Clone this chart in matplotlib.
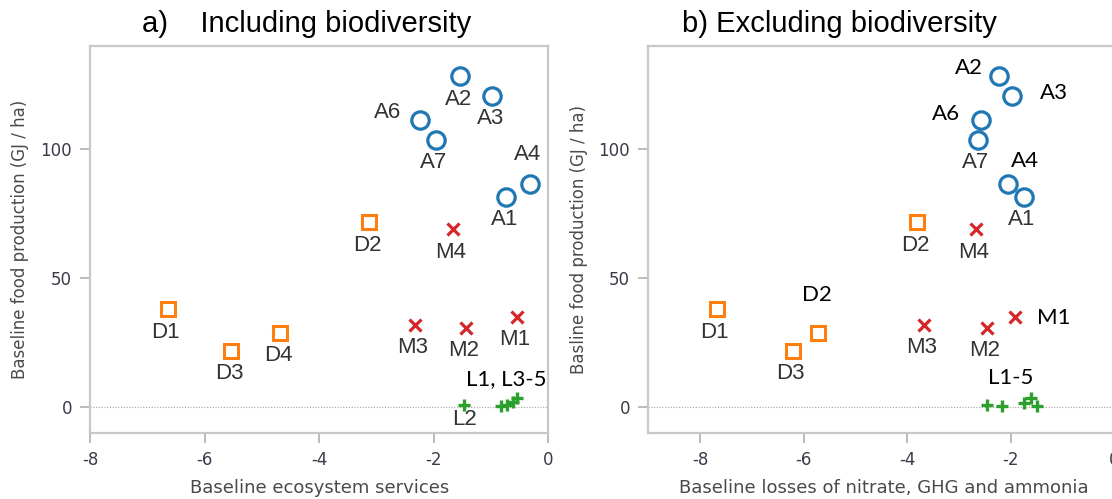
import matplotlib.pyplot as plt

plt.rcParams["axes.unicode_minus"] = False

# food production (GJ / ha), shared by both panels
a_names = ["A1", "A2", "A3", "A4", "A6", "A7"]
a_food = [81.5, 128.3, 120.8, 86.6, 111.5, 103.7]
a_es = [-0.73, -1.53, -0.97, -0.32, -2.23, -1.96]
a_loss = [-1.74, -2.22, -1.98, -2.05, -2.57, -2.63]

d_names = ["D1", "D2", "D3", "D4"]
d_food = [37.9, 71.7, 21.8, 28.9]
d_es = [-6.64, -3.12, -5.53, -4.68]
d_loss = [-7.68, -3.80, -6.21, -5.72]
d_names_b = ["D1", "D2", "D3", "D2"]  # panel b labels D4 as "D2"

m_names = ["M1", "M2", "M3", "M4"]
m_food = [35.0, 30.8, 31.9, 68.9]
m_es = [-0.54, -1.44, -2.33, -1.66]
m_loss = [-1.91, -2.46, -3.68, -2.67]

l_es = [-0.82, -1.46, -0.72, -0.62, -0.55]
l_food_a = [0.5, 0.7, 0.8, 2.0, 3.7]
l_loss = [-2.45, -2.16, -1.74, -1.60, -1.49]
l_food_b = [0.9, 0.6, 1.7, 3.4, 0.6]

BLUE, ORANGE, RED, GREEN = "#1f77b4", "#ff7f0e", "#d62728", "#2ca02c"
LABEL_GREY = "#333333"

fig = plt.figure(figsize=(11.12, 4.99), dpi=100)
ax1 = fig.add_axes([90 / 1112, 66 / 499, 458 / 1112, 387 / 499])
ax2 = fig.add_axes([648.3 / 1112, 66 / 499, 491.7 / 1112, 387 / 499])


def style_axes(ax, xlim):
    ax.set_xlim(*xlim)
    ax.set_ylim(-10, 140)
    ax.set_xticks([-8, -6, -4, -2, 0])
    ax.set_yticks([0, 50, 100])
    for s in ax.spines.values():
        s.set_color("#c8c8c8")
        s.set_linewidth(1.6)
    ax.tick_params(colors="#b0b0b0", labelcolor="#3a3a4a", length=7, width=1.2,
                   labelsize=12, pad=6)
    ax.axhline(0, color="#a0a0a0", lw=0.8, ls=(0, (1, 1.5)), zorder=0)


def draw_points(ax, xs_list, food_list):
    ax.plot(xs_list[0], food_list[0], "o", ms=12.5, mfc="none", mec=BLUE, mew=2.3)
    ax.plot(xs_list[1], food_list[1], "s", ms=10.5, mfc="none", mec=ORANGE, mew=2.2)
    ax.plot(xs_list[2], food_list[2], "x", ms=9, mec=RED, mew=2.3)
    ax.plot(xs_list[3], food_list[3], "+", ms=9, mec=GREEN, mew=2.4)


def label(ax, text, x, y, dx, dy, added=False):
    if added:
        ax.annotate(text, (x, y), xytext=(dx, dy), textcoords="offset pixels",
                    ha="center", va="center", fontsize=16, color="black",
                    family="Lato")
    else:
        ax.annotate(text, (x, y), xytext=(dx, dy), textcoords="offset pixels",
                    ha="center", va="center", fontsize=16, color=LABEL_GREY,
                    family="Liberation Sans")


BELOW = (-2, -23)

# ---- panel a
style_axes(ax1, (-8, 0))
draw_points(ax1, [a_es, d_es, m_es, l_es], [a_food, d_food, m_food, l_food_a])
offs_a = {"A6": (-33, 7), "A4": (-2, 29)}
for n, x, y in zip(a_names, a_es, a_food):
    label(ax1, n, x, y, *offs_a.get(n, BELOW))
for n, x, y in zip(d_names, d_es, d_food):
    label(ax1, n, x, y, *BELOW)
for n, x, y in zip(m_names, m_es, m_food):
    label(ax1, n, x, y, *BELOW)
label(ax1, "L2", l_es[1], l_food_a[1], 0, -14)
label(ax1, "L1, L3-5", l_es[3], l_food_a[3], -6, 23, added=True)

ax1.set_xlabel("Baseline ecosystem services", fontsize=13, color="#4a4a4a", va="center")
ax1.xaxis.set_label_coords(0.501, -0.142)
ax1.set_ylabel("Baseline food production (GJ / ha)", fontsize=12, color="#4a4a4a", va="center")
ax1.yaxis.set_label_coords(-0.153, 0.501)

# ---- panel b
style_axes(ax2, (-9, 0.5))
draw_points(ax2, [a_loss, d_loss, m_loss, l_loss], [a_food, d_food, m_food, l_food_b])
offs_b = {"A2": (-30, 8), "A3": (42, 3), "A6": (-35, 6), "A4": (17, 23)}
added_b = {"A2", "A3", "A6", "A4"}
for n, x, y in zip(a_names, a_loss, a_food):
    label(ax2, n, x, y, *offs_b.get(n, BELOW), added=n in added_b)
for i, (n, x, y) in enumerate(zip(d_names_b, d_loss, d_food)):
    if i == 3:
        label(ax2, n, x, y, -1, 38, added=True)
    else:
        label(ax2, n, x, y, *BELOW)
for n, x, y in zip(m_names, m_loss, m_food):
    if n == "M1":
        label(ax2, n, x, y, 38, -1, added=True)
    else:
        label(ax2, n, x, y, *BELOW)
label(ax2, "L1-5", l_loss[3], l_food_b[3], -21, 20, added=True)

ax2.set_xlabel("Baseline losses of nitrate, GHG and ammonia", fontsize=13, color="#4a4a4a", va="center")
ax2.xaxis.set_label_coords(0.478, -0.142)
ax2.set_ylabel("Basline food production (GJ / ha)", fontsize=12, color="#4a4a4a", va="center")
ax2.yaxis.set_label_coords(-0.141, 0.499)

fig.text(142 / 1112, 1 - 32 / 499, "a)    Including biodiversity", fontsize=21,
         family="Liberation Sans", ha="left", va="baseline")
fig.text(682 / 1112, 1 - 32 / 499, "b) Excluding biodiversity", fontsize=21,
         family="Liberation Sans", ha="left", va="baseline")

fig.savefig("out.png", dpi=100)
